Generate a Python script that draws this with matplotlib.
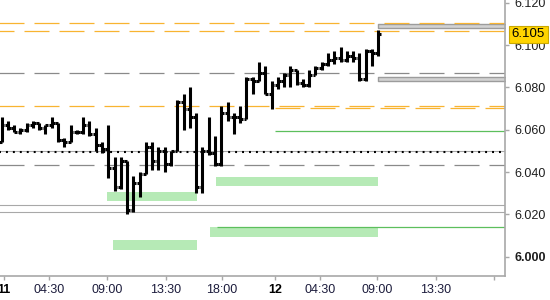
import numpy as np
import matplotlib
matplotlib.use("Agg")
import matplotlib.pyplot as plt
from matplotlib.collections import LineCollection
from matplotlib.transforms import blended_transform_factory

plt.rcParams["font.family"] = ["Liberation Sans", "DejaVu Sans"]
plt.rcParams["lines.scale_dashes"] = False

# 30-minute OHLC bars
opens = [6.054, 6.062, 6.061, 6.059, 6.060, 6.062, 6.063, 6.061, 6.062, 6.063,
         6.055, 6.054, 6.059, 6.059, 6.062, 6.058, 6.053, 6.051, 6.042, 6.033,
         6.045, 6.022, 6.035, 6.039, 6.052, 6.045, 6.050, 6.044, 6.050, 6.073,
         6.070, 6.066, 6.033, 6.050, 6.049, 6.044, 6.068, 6.066, 6.066, 6.065,
         6.084, 6.083, 6.087, 6.077, 6.081, 6.083, 6.086, 6.088, 6.082, 6.081,
         6.086, 6.089, 6.091, 6.093, 6.094, 6.093, 6.095, 6.094, 6.084, 6.097,
         6.096]
highs = [6.066, 6.064, 6.062, 6.061, 6.063, 6.064, 6.063, 6.062, 6.066, 6.063,
         6.056, 6.062, 6.060, 6.066, 6.064, 6.061, 6.054, 6.062, 6.047, 6.047,
         6.045, 6.038, 6.040, 6.054, 6.054, 6.052, 6.052, 6.050, 6.074, 6.077,
         6.080, 6.068, 6.052, 6.066, 6.057, 6.071, 6.073, 6.068, 6.071, 6.085,
         6.085, 6.092, 6.090, 6.083, 6.085, 6.087, 6.090, 6.088, 6.084, 6.088,
         6.090, 6.092, 6.096, 6.097, 6.099, 6.097, 6.097, 6.096, 6.098, 6.098,
         6.107]
lows = [6.054, 6.060, 6.059, 6.058, 6.059, 6.061, 6.060, 6.058, 6.061, 6.054,
        6.052, 6.054, 6.058, 6.058, 6.057, 6.050, 6.049, 6.037, 6.031, 6.032,
        6.020, 6.021, 6.028, 6.039, 6.041, 6.041, 6.040, 6.043, 6.050, 6.060,
        6.061, 6.030, 6.030, 6.048, 6.043, 6.043, 6.064, 6.058, 6.063, 6.065,
        6.077, 6.083, 6.077, 6.070, 6.079, 6.080, 6.080, 6.081, 6.080, 6.080,
        6.086, 6.088, 6.090, 6.091, 6.092, 6.092, 6.092, 6.083, 6.083, 6.090,
        6.095]
closes = [6.062, 6.061, 6.059, 6.060, 6.062, 6.063, 6.061, 6.062, 6.063, 6.055,
          6.054, 6.059, 6.059, 6.062, 6.058, 6.053, 6.051, 6.042, 6.033, 6.045,
          6.022, 6.035, 6.039, 6.052, 6.045, 6.050, 6.044, 6.050, 6.073, 6.070,
          6.066, 6.033, 6.050, 6.049, 6.044, 6.068, 6.066, 6.066, 6.065, 6.084,
          6.083, 6.087, 6.077, 6.081, 6.083, 6.086, 6.088, 6.082, 6.081, 6.086,
          6.089, 6.091, 6.093, 6.094, 6.093, 6.095, 6.094, 6.084, 6.097, 6.096,
          6.105]

last_price = 6.105

# x axis ticks (in bar units) and labels
tick_pos = [0.4, 7.6, 16.8, 26.2, 35.1, 43.6, 50.7, 59.8, 69.2, 78.4]
tick_labels = ["11", "04:30", "09:00", "13:30", "18:00", "12", "04:30", "09:00", "13:30", ""]
day_labels = {"11", "12"}

y_ticks = [6.000, 6.020, 6.040, 6.060, 6.080, 6.100, 6.120]

# level lines
orange_full = [6.1104, 6.1066, 6.0712]
orange_late = [6.0702]          # starts on day 12
gray_dashed = [6.0869, 6.0433]
gray_solid = [6.0501, 6.0246, 6.0209]
dotted_level = 6.0493
green_lines = [(43.6, 6.0594), (34.3, 6.0140)]   # (start bar, level)

# shaded zones: (start bar, end bar, low, high)
green_zones = [(16.8, 31.1, 6.0262, 6.0304),
               (17.8, 31.1, 6.0030, 6.0077),
               (34.2, 60.0, 6.0332, 6.0378),
               (33.2, 60.0, 6.0094, 6.0138)]
gray_zones = [(60.0, 81.0, 6.1080, 6.1099),
              (60.0, 81.0, 6.0831, 6.0849)]

ORANGE = "#f8b431"
GRAY_D = "#8a8a8a"
GRAY_L = "#a8a8a8"
GREEN = "#5cbf5c"
GREEN_FILL = "#b6eab6"

fig = plt.figure(figsize=(5.5, 3), dpi=100)
ax = fig.add_axes([0, 0.08, 505 / 550, 0.92])
ax.set_xlim(-0.24, 80.18)
ax.set_ylim(5.99088, 6.12127)

for x0, x1, lo, hi in green_zones:
    ax.fill_between([x0, x1], lo, hi, color=GREEN_FILL, lw=0, zorder=1)
for x0, x1, lo, hi in gray_zones:
    ax.fill_between([x0, x1], lo, hi, facecolor="#d2d2d2", edgecolor="#9c9c9c", lw=1.0, zorder=1)

xmax = 81
for i, lv in enumerate(orange_full):
    ax.hlines(lv, -1, xmax, color=ORANGE, lw=0.9, linestyles=[(7.2 * (i % 2), (18, 7.2))], zorder=2)
for lv in orange_late:
    ax.hlines(lv, 43.6, xmax, color=ORANGE, lw=0.9, linestyles=[(0, (18, 7.2))], zorder=2)
for lv in gray_dashed:
    ax.hlines(lv, -1, xmax, color=GRAY_D, lw=0.9, linestyles=[(0, (18, 7.2))], zorder=2)
for lv in gray_solid:
    ax.hlines(lv, -1, xmax, color=GRAY_L, lw=0.8, zorder=2)
ax.hlines(dotted_level, -1, xmax, color="black", lw=1.5, linestyles=[(0, (1.4, 3.6))], zorder=2)
for x0, lv in green_lines:
    ax.hlines(lv, x0, xmax, color=GREEN, lw=0.9, zorder=2)

# OHLC bars
idx = np.arange(len(opens))
w = 0.45
segs = []
for i in idx:
    segs.append([(i, lows[i]), (i, highs[i])])
    segs.append([(i - w, opens[i]), (i, opens[i])])
    segs.append([(i, closes[i]), (i + w, closes[i])])
ax.add_collection(LineCollection(segs, colors="black", linewidths=2.2, capstyle="butt", zorder=4))

# axes styling
for s in ["top", "left"]:
    ax.spines[s].set_visible(False)
for s in ["right", "bottom"]:
    ax.spines[s].set_color("#a8a8a8")
    ax.spines[s].set_linewidth(1.2)

ax.yaxis.tick_right()
ax.set_yticks(y_ticks)
ax.set_yticklabels([f"{v:.3f}" for v in y_ticks])
ax.tick_params(axis="y", length=3, width=1, color="#a8a8a8", pad=4, labelsize=9, labelcolor="#1e1e1e")
for lab in ax.get_yticklabels():
    if lab.get_text() == "6.000":
        lab.set_fontweight("bold")

ax.set_xticks(tick_pos)
ax.set_xticklabels(tick_labels)
ax.tick_params(axis="x", length=3, width=1, color="#a8a8a8", pad=3, labelsize=9, labelcolor="#1c1c3c")
for lab in ax.get_xticklabels():
    if lab.get_text() in day_labels:
        lab.set_fontweight("bold")
        lab.set_color("black")

# current price tag
trans = blended_transform_factory(ax.transAxes, ax.transData)
ax.text(1.013, last_price, f"{last_price:.3f}", transform=trans, ha="left", va="center",
        fontsize=9.5, color="black", clip_on=False, zorder=10,
        bbox=dict(boxstyle="square,pad=0.22", fc="#ffd400", ec="#c9a800", lw=0.8))

fig.savefig("out.png", dpi=100)
